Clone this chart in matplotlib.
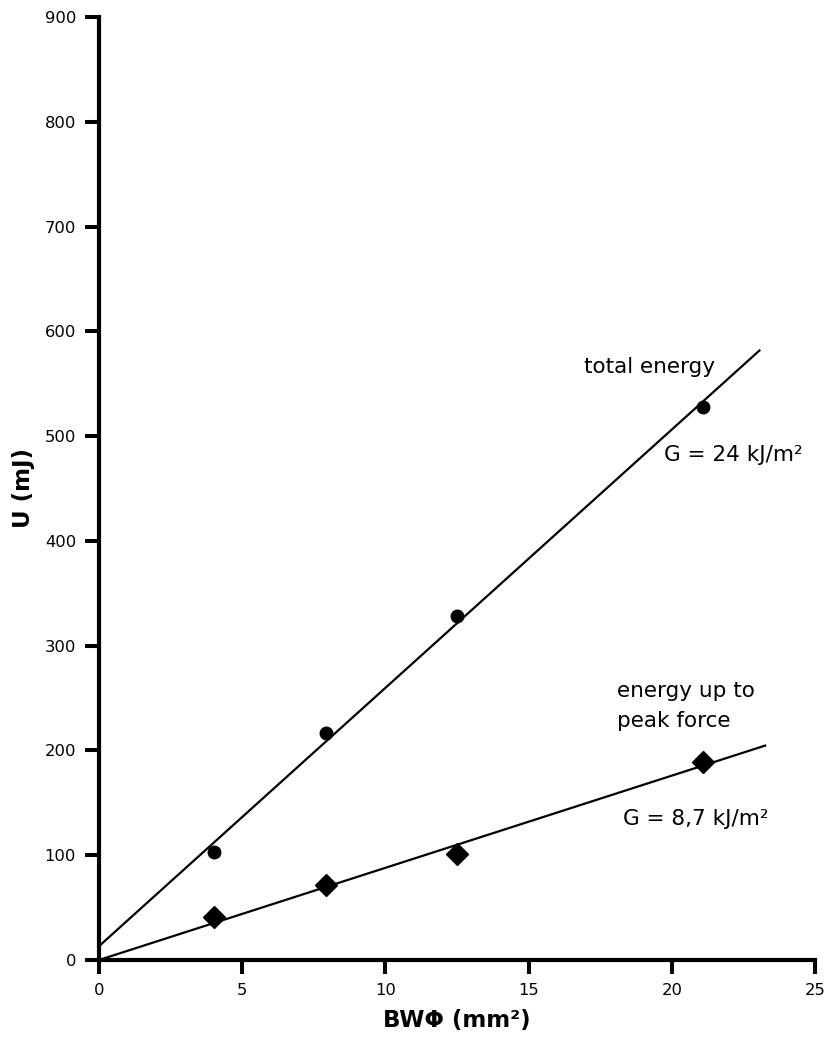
import numpy as np
import matplotlib
matplotlib.use("Agg")
import matplotlib.pyplot as plt

plt.rcParams['font.family'] = ['DejaVu Sans']

# Data
bwphi_total = [4.03, 7.94, 12.5, 21.09]
u_total = [103, 217, 328, 528]
bwphi_peak = [4.03, 7.94, 12.5, 21.09]
u_peak = [41, 72, 101, 189]

fit_xmax_total = 23.06
fit_xmax_peak = 23.26

xticks = [0, 5, 10, 15, 20, 25]
yticks = [0, 100, 200, 300, 400, 500, 600, 700, 800, 900]

fig = plt.figure(figsize=(8.27, 10.45), dpi=100)
ax = fig.add_axes([99/827, 85/1045, (815-99)/827, (960-17)/1045])

# regression lines
p_tot = np.polyfit(bwphi_total, u_total, 1)
xt = np.array([0, fit_xmax_total])
ax.plot(xt, np.polyval(p_tot, xt), color='black', lw=1.6, zorder=2)

xp = np.array(bwphi_peak)
yp = np.array(u_peak)
slope_peak = np.sum(xp*yp)/np.sum(xp*xp)
xl = np.array([0, fit_xmax_peak])
ax.plot(xl, slope_peak*xl, color='black', lw=1.6, zorder=2)

ax.plot(bwphi_total, u_total, 'o', color='black', ms=9, zorder=3, clip_on=False)
ax.plot(bwphi_peak, u_peak, 'D', color='black', ms=11, zorder=3, clip_on=False)

ax.set_xlim(0, 25)
ax.set_ylim(0, 900)
ax.set_xticks(xticks)
ax.set_yticks(yticks)
ax.spines['top'].set_visible(False)
ax.spines['right'].set_visible(False)
for s in ['left', 'bottom']:
    ax.spines[s].set_linewidth(3)
ax.tick_params(direction='out', length=10, width=2.9, labelsize=11.8, pad=6.5)

ax.set_xlabel('BWΦ (mm²)', fontsize=16.5, fontweight='bold', labelpad=8)
ax.set_ylabel('U (mJ)', fontsize=16.5, fontweight='bold', labelpad=7)

fs = 15.5
ax.text(16.92, 560, 'total energy', fontsize=fs, va='baseline', ha='left')
ax.text(19.74, 476, 'G = 24 kJ/m²', fontsize=fs, va='baseline', ha='left')
ax.text(18.1, 251, 'energy up to', fontsize=fs, va='baseline', ha='left')
ax.text(18.1, 222.4, 'peak force', fontsize=fs, va='baseline', ha='left')
ax.text(18.31, 128.8, 'G = 8,7 kJ/m²', fontsize=fs, va='baseline', ha='left')

fig.savefig('out.png', dpi=100)
